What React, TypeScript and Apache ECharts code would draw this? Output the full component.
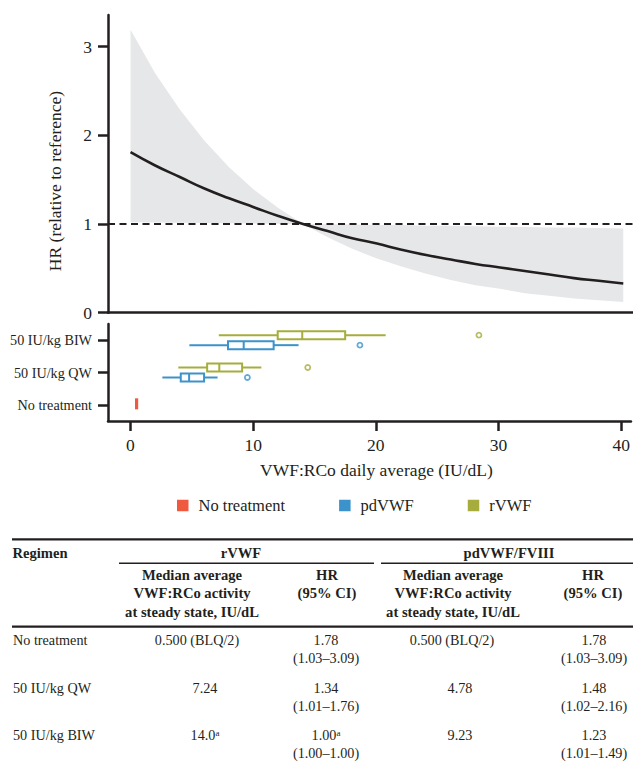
import React, { useEffect, useRef } from 'react';
import * as echarts from 'echarts';

// ---------- data ----------
const CURVE_X = [0, 2, 4, 6, 8, 10, 12, 14, 16, 18, 20, 22, 24, 26, 28, 30, 32, 34, 36, 38, 40];
const HR = [1.81, 1.66, 1.53, 1.40, 1.29, 1.19, 1.09, 1.00, 0.92, 0.84, 0.78, 0.71, 0.65, 0.60, 0.55, 0.51, 0.47, 0.43, 0.39, 0.36, 0.33];
const CI_UPPER = [3.19, 2.70, 2.29, 1.94, 1.64, 1.39, 1.18, 1.00, 0.997, 0.994, 0.99, 0.99, 0.98, 0.98, 0.975, 0.97, 0.965, 0.96, 0.96, 0.955, 0.95];
const CI_LOWER = [1.02, 1.017, 1.014, 1.011, 1.008, 1.006, 1.003, 1.00, 0.85, 0.72, 0.61, 0.52, 0.44, 0.37, 0.31, 0.27, 0.22, 0.19, 0.16, 0.14, 0.12];
const REF_HR = 1;

const Y_TICKS = [0, 1, 2, 3];
const X_TICKS = [0, 10, 20, 30, 40];
const X_TITLE = 'VWF:RCo daily average (IU/dL)';
const Y_TITLE = 'HR (relative to reference)';

const CATEGORIES = ['No treatment', '50 IU/kg QW', '50 IU/kg BIW'];
// [category, lower whisker, Q1, median, Q3, upper whisker]
const NOTX_BOX: [string, number, number, number, number, number][] = [['No treatment', 0.5, 0.5, 0.5, 0.5, 0.5]];
const PD_BOX: [string, number, number, number, number, number][] = [
  ['50 IU/kg QW', 2.6, 4.1, 4.78, 6.0, 7.1],
  ['50 IU/kg BIW', 4.8, 7.95, 9.23, 11.67, 13.7],
];
const RVWF_BOX: [string, number, number, number, number, number][] = [
  ['50 IU/kg QW', 3.9, 6.25, 7.24, 9.1, 10.67],
  ['50 IU/kg BIW', 7.2, 12.0, 14.0, 17.5, 20.8],
];
const PD_OUT: [string, number][] = [['50 IU/kg QW', 9.53], ['50 IU/kg BIW', 18.7]];
const RVWF_OUT: [string, number][] = [['50 IU/kg QW', 14.45], ['50 IU/kg BIW', 28.4]];

const LEGEND_NAMES = ['No treatment', 'pdVWF', 'rVWF'];

// table
const TABLE_GROUPS = ['rVWF', 'pdVWF/FVIII'];
const SUB_MEDIAN = ['Median average', 'VWF:RCo activity', 'at steady state, IU/dL'];
const SUB_HR = ['HR', '(95% CI)'];
const ROW_LABELS = ['No treatment', '50 IU/kg QW', '50 IU/kg BIW'];
const RVWF_MEDIAN = ['0.500 (BLQ/2)', '7.24', '14.0{sup|a}'];
const RVWF_HR = ['1.78', '1.34', '1.00{sup|a}'];
const RVWF_CI = ['(1.03–3.09)', '(1.01–1.76)', '(1.00–1.00)'];
const PD_MEDIAN = ['0.500 (BLQ/2)', '4.78', '9.23'];
const PD_HR = ['1.78', '1.48', '1.23'];
const PD_CI = ['(1.03–3.09)', '(1.02–2.16)', '(1.01–1.49)'];

// ---------- styling ----------
const FONT = "'Liberation Serif', serif";
const INK = '#231f20';
const RED = '#ef5a3f';
const BLUE = '#3c93cb';
const OLIVE = '#a6ad3c';
const BAND = '#e6e7e8';
const X_MIN = -1.83;
const X_MAX = 40.79;

const axisLineStyle = { color: INK, width: 2.5 };

function makeBoxRenderer(offset: number, boxH: number) {
  return (params: any, api: any) => {
    const cat = api.value(0);
    const xs = [1, 2, 3, 4, 5].map((d) => api.coord([api.value(d), cat])[0]);
    const y = api.coord([api.value(3), cat])[1] + offset;
    const color = api.visual('color');
    const lw = 2;
    if (xs[3] - xs[1] < 1) {
      return {
        type: 'rect',
        shape: { x: xs[2] - 1.6, y: y - boxH / 2, width: 3.2, height: boxH },
        style: { fill: color },
      };
    }
    return {
      type: 'group',
      children: [
        { type: 'line', shape: { x1: xs[0], y1: y, x2: xs[1], y2: y }, style: { stroke: color, lineWidth: lw } },
        { type: 'line', shape: { x1: xs[3], y1: y, x2: xs[4], y2: y }, style: { stroke: color, lineWidth: lw } },
        {
          type: 'rect',
          shape: { x: xs[1], y: y - boxH / 2, width: xs[3] - xs[1], height: boxH },
          style: { fill: '#fff', stroke: color, lineWidth: lw },
        },
        {
          type: 'line',
          shape: { x1: xs[2], y1: y - boxH / 2, x2: xs[2], y2: y + boxH / 2 },
          style: { stroke: color, lineWidth: lw },
        },
      ],
    };
  };
}

const boxData = (rows: [string, number, number, number, number, number][]) =>
  rows.map(([c, a, b, m, d, e]) => [CATEGORIES.indexOf(c), a, b, m, d, e]);

const RICH = {
  sup: { fontSize: 9, fontFamily: FONT, fill: INK, color: INK, verticalAlign: 'top', padding: [0, 0, 0, 0] },
};

function txt(text: string, x: number, y: number, extra: any = {}) {
  const align = extra.align || 'center';
  return {
    type: 'text',
    x,
    y,
    silent: true,
    style: {
      text,
      fill: INK,
      fontFamily: FONT,
      fontSize: 14.2,
      fontWeight: 'normal',
      align,
      textAlign: align,
      verticalAlign: 'middle',
      textVerticalAlign: 'middle',
      rich: RICH,
      ...extra,
    },
  };
}

function buildTable() {
  const els: any[] = [];
  // rules
  els.push({ type: 'rect', shape: { x: 12, y: 538.2, width: 621, height: 2.2 }, style: { fill: INK } });
  els.push({ type: 'rect', shape: { x: 119, y: 562.6, width: 255, height: 1.4 }, style: { fill: INK } });
  els.push({ type: 'rect', shape: { x: 381, y: 562.6, width: 252, height: 1.4 }, style: { fill: INK } });
  els.push({ type: 'rect', shape: { x: 12, y: 625.6, width: 621, height: 2.2 }, style: { fill: INK } });

  const bold = { fontWeight: 'bold', fontSize: 14.6 };
  els.push(txt('Regimen', 12.5, 552.7, { ...bold, align: 'left' }));
  const groupCenters = [241, 509];
  TABLE_GROUPS.forEach((g, i) => els.push(txt(g, groupCenters[i], 552.7, bold)));

  const subY = [575, 593.3, 611.7];
  const medCenters = [192, 453];
  const hrCenters = [327, 593];
  medCenters.forEach((cx) => SUB_MEDIAN.forEach((s, j) => els.push(txt(s, cx, subY[j], bold))));
  hrCenters.forEach((cx) => SUB_HR.forEach((s, j) => els.push(txt(s, cx, subY[j], bold))));

  const rowY = [640, 687.7, 735];
  const lineGap = 18.3;
  const medLong = [197, 452];
  const medShort = [205, 460];
  const hrCx = [326, 594];
  ROW_LABELS.forEach((lab, r) => {
    const y = rowY[r];
    els.push(txt(lab, 13, y, { align: 'left' }));
    [RVWF_MEDIAN, PD_MEDIAN].forEach((col, k) => {
      const t = col[r];
      els.push(txt(t, t.length > 8 && !t.includes('{') ? medLong[k] : medShort[k], y));
    });
    [RVWF_HR, PD_HR].forEach((col, k) => els.push(txt(col[r], hrCx[k], y)));
    [RVWF_CI, PD_CI].forEach((col, k) => els.push(txt(col[r], hrCx[k], y + lineGap)));
  });
  return els;
}

export default function App() {
  const ref = useRef<HTMLDivElement>(null);

  useEffect(() => {
    if (!ref.current) return;
    const chart = echarts.init(ref.current, null, { renderer: 'svg' });

    const option: any = {
      animation: false,
      backgroundColor: '#fff',
      textStyle: { fontFamily: FONT },
      grid: [
        { left: 108, right: 0, top: 15, height: 297.7 },
        { left: 108, right: 0, top: 324, height: 97 },
      ],
      xAxis: [
        {
          gridIndex: 0,
          type: 'value',
          min: X_MIN,
          max: X_MAX,
          axisLine: { show: true, onZero: false, lineStyle: axisLineStyle },
          axisTick: { show: false },
          axisLabel: { show: false },
          splitLine: { show: false },
        },
        {
          gridIndex: 1,
          type: 'value',
          min: X_MIN,
          max: X_MAX,
          axisLine: { show: true, onZero: false, lineStyle: axisLineStyle },
          axisTick: { show: true, length: 10, lineStyle: axisLineStyle, customValues: X_TICKS },
          axisLabel: { customValues: X_TICKS, fontSize: 17.5, fontFamily: FONT, color: INK, margin: 15 },
          splitLine: { show: false },
        },
      ],
      yAxis: [
        {
          gridIndex: 0,
          type: 'value',
          min: 0,
          max: 3.357,
          axisLine: { show: true, onZero: false, lineStyle: axisLineStyle },
          axisTick: { show: true, length: 10, lineStyle: axisLineStyle, customValues: Y_TICKS },
          axisLabel: { customValues: Y_TICKS, fontSize: 17.5, fontFamily: FONT, color: INK, margin: 16 },
          splitLine: { show: false },
        },
        {
          gridIndex: 1,
          type: 'category',
          data: CATEGORIES,
          axisLine: { show: true, onZero: false, lineStyle: axisLineStyle },
          axisTick: { show: true, alignWithLabel: true, length: 10, lineStyle: axisLineStyle },
          axisLabel: { interval: 0, fontSize: 14.2, fontFamily: FONT, color: INK, margin: 16 },
          splitLine: { show: false },
        },
      ],
      legend: {
        left: 177,
        top: 497,
        padding: 0,
        icon: 'rect',
        itemWidth: 11.5,
        itemHeight: 11.5,
        itemGap: 54,
        selectedMode: false,
        textStyle: { fontSize: 16.5, fontFamily: FONT, color: INK, padding: [0, 0, 0, 5] },
        data: [
          { name: LEGEND_NAMES[0], itemStyle: { color: RED } },
          { name: LEGEND_NAMES[1], itemStyle: { color: BLUE } },
          { name: LEGEND_NAMES[2], itemStyle: { color: OLIVE } },
        ],
      },
      series: [
        {
          type: 'custom',
          name: '95% CI',
          xAxisIndex: 0,
          yAxisIndex: 0,
          silent: true,
          z: 1,
          data: CURVE_X.map((x, i) => [x, CI_LOWER[i], CI_UPPER[i]]),
          encode: { x: 0, y: [1, 2] },
          renderItem: (params: any, api: any) => {
            if (params.dataIndex !== 0) return { type: 'group', children: [] };
            const pts: number[][] = [];
            CURVE_X.forEach((x, i) => pts.push(api.coord([x, CI_UPPER[i]])));
            for (let i = CURVE_X.length - 1; i >= 0; i--) pts.push(api.coord([CURVE_X[i], CI_LOWER[i]]));
            return { type: 'polygon', shape: { points: pts }, style: { fill: BAND } };
          },
        },
        {
          type: 'line',
          name: 'HR',
          xAxisIndex: 0,
          yAxisIndex: 0,
          z: 3,
          smooth: true,
          symbol: 'none',
          silent: true,
          data: CURVE_X.map((x, i) => [x, HR[i]]),
          lineStyle: { color: INK, width: 2.6 },
          markLine: {
            silent: true,
            symbol: ['none', 'none'],
            label: { show: false },
            lineStyle: { color: INK, width: 2, type: [7, 4.5] },
            data: [{ yAxis: REF_HR }],
          },
        },
        {
          type: 'custom',
          name: 'No treatment',
          xAxisIndex: 1,
          yAxisIndex: 1,
          itemStyle: { color: RED },
          data: boxData(NOTX_BOX),
          encode: { x: [1, 2, 3, 4, 5], y: 0 },
          renderItem: makeBoxRenderer(-1, 11),
        },
        {
          type: 'custom',
          name: 'pdVWF',
          xAxisIndex: 1,
          yAxisIndex: 1,
          itemStyle: { color: BLUE },
          data: boxData(PD_BOX),
          encode: { x: [1, 2, 3, 4, 5], y: 0 },
          renderItem: makeBoxRenderer(5, 8),
        },
        {
          type: 'custom',
          name: 'rVWF',
          xAxisIndex: 1,
          yAxisIndex: 1,
          itemStyle: { color: OLIVE },
          data: boxData(RVWF_BOX),
          encode: { x: [1, 2, 3, 4, 5], y: 0 },
          renderItem: makeBoxRenderer(-5, 8),
        },
        {
          type: 'scatter',
          name: 'pdVWF',
          xAxisIndex: 1,
          yAxisIndex: 1,
          symbol: 'circle',
          symbolSize: 5,
          symbolOffset: [0, 5],
          itemStyle: { color: '#fff', borderColor: BLUE, borderWidth: 1.8 },
          data: PD_OUT.map(([c, v]) => [v, CATEGORIES.indexOf(c)]),
          z: 5,
        },
        {
          type: 'scatter',
          name: 'rVWF',
          xAxisIndex: 1,
          yAxisIndex: 1,
          symbol: 'circle',
          symbolSize: 5,
          symbolOffset: [0, -5],
          itemStyle: { color: '#fff', borderColor: OLIVE, borderWidth: 1.8 },
          data: RVWF_OUT.map(([c, v]) => [v, CATEGORIES.indexOf(c)]),
          z: 5,
        },
      ],
      graphic: [
        {
          type: 'text',
          x: 55,
          y: 181,
          rotation: Math.PI / 2,
          silent: true,
          style: {
            text: Y_TITLE,
            fill: INK,
            fontFamily: FONT,
            fontSize: 17.5,
            align: 'center',
            textAlign: 'center',
            verticalAlign: 'middle',
            textVerticalAlign: 'middle',
          },
        },
        txt(X_TITLE, 376.4, 470, { fontSize: 17.5 }),
        ...buildTable(),
      ],
    };

    chart.setOption(option);
    return () => chart.dispose();
  }, []);

  return (
    <div
      ref={ref}
      style={{ position: 'absolute', left: 0, top: 0, width: 633, height: 766, background: '#fff' }}
    />
  );
}
